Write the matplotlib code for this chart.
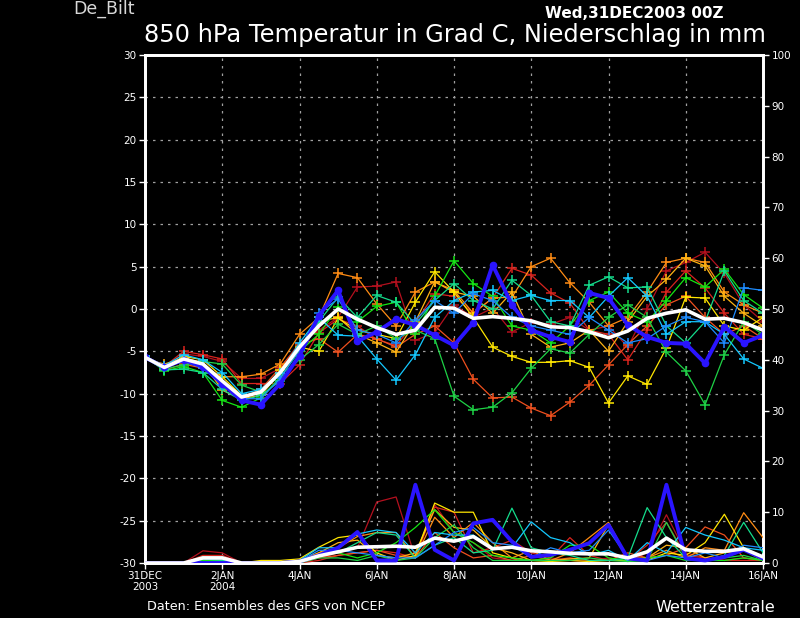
import matplotlib
matplotlib.use('Agg')
import matplotlib.pyplot as plt

# ---------------- data ----------------
steps = list(range(33))  # 12-hourly steps, 31DEC2003 00Z .. 16JAN2004 00Z
tick_steps = [0, 4, 8, 12, 16, 20, 24, 28, 32]
tick_labels = ['31DEC\n2003', '2JAN\n2004', '4JAN', '6JAN', '8JAN',
               '10JAN', '12JAN', '14JAN', '16JAN']
temp_ticks = [-30, -25, -20, -15, -10, -5, 0, 5, 10, 15, 20, 25, 30]
prec_ticks = [0, 10, 20, 30, 40, 50, 60, 70, 80, 90, 100]

member_colors = ['#b4101e', '#d8241e', '#f0501e', '#ff8c14', '#ffb414', '#ffe600',
                 '#14e614', '#1ed246', '#14dc8c', '#14c8ff', '#1e8cff']

temp_crimson = [-5.5, -7.0, -5.3, -5.6, -6.2, -8.2, -8.2, -7.0, -4.0, -2.5, -1.0, 2.6, 2.7, 3.2, -3.7, -2.8,
                0.5, -1.0, 0.1, -2.7, -1.6, -1.8, -1.0, -2.5, -2.0, -4.5, 0.0, 4.5, 5.5, 6.7, 4.2, 0.5, -1.5]
temp_red = [-5.8, -6.8, -5.0, -5.4, -5.9, -8.8, -8.8, -8.8, -6.6, -2.8, -1.2, -2.0, -3.6, -4.3, -1.6, 1.8,
            1.5, -0.5, 1.3, 4.8, 4.0, 1.9, 0.7, -2.5, -3.0, -6.0, -2.5, 2.0, 4.5, 2.5, -0.5, -3.0, -3.5]
temp_orangered = [-5.6, -7.2, -6.5, -7.0, -8.8, -10.5, -9.5, -6.9, -4.2, -3.5, -5.1, -3.0, -3.5, -4.5, -3.0, -2.0,
                  -4.0, -8.3, -10.5, -10.4, -11.7, -12.6, -11.0, -9.0, -6.6, -4.2, -2.0, 0.5, 1.5, -1.0, -3.0, -2.0, -3.5]
temp_orange = [-5.7, -6.9, -6.0, -6.8, -8.0, -8.0, -7.7, -6.5, -3.0, -1.0, 4.2, 3.7, 0.6, -2.0, 2.0, 3.2,
               2.2, -0.5, 1.3, 1.4, 5.0, 6.0, 3.1, 0.8, -2.0, -1.0, 2.0, 5.5, 6.0, 5.5, 2.0, 0.5, -0.5]
temp_gold = [-5.9, -6.5, -5.8, -6.3, -9.6, -10.6, -10.2, -7.5, -5.0, -1.5, -1.0, -3.0, -4.0, -5.1, -1.5, 3.2,
             2.0, 1.5, -0.5, 2.0, -3.0, -4.5, -4.0, -2.5, -5.0, -1.5, 1.5, 3.5, 6.0, 5.1, 1.5, -0.5, -2.0]
temp_yellow = [-5.8, -7.0, -5.6, -6.0, -8.0, -10.2, -10.0, -7.2, -4.5, -5.0, -1.1, -2.5, -3.0, -3.5, 0.8, 4.4,
               2.0, -1.0, -4.5, -5.6, -6.3, -6.3, -6.1, -6.9, -11.1, -7.9, -8.9, -4.6, 1.4, 1.3, -2.0, -2.5, -1.0]
temp_green = [-5.6, -7.3, -6.8, -7.5, -10.8, -11.6, -10.5, -8.0, -5.0, -3.0, 0.2, -1.5, 0.3, 0.8, -3.0, 1.5,
              5.7, 3.0, 1.5, -2.0, -2.5, -4.0, -2.0, 1.0, 2.0, -0.5, -1.5, 1.0, 3.7, 2.6, 4.7, 1.7, 0.1]
temp_green2 = [-5.8, -7.1, -6.6, -6.2, -6.5, -9.0, -9.8, -7.8, -6.0, -4.2, -1.8, -3.0, -2.0, -3.5, -2.5, -3.5,
               -10.3, -11.9, -11.6, -9.9, -7.0, -4.7, -5.2, -3.0, -1.0, 0.5, -1.0, -5.1, -7.3, -11.3, -5.4, -1.5, -3.0]
temp_spring = [-5.7, -7.2, -7.1, -7.5, -9.5, -10.8, -10.2, -8.5, -5.5, -1.5, 1.4, -1.0, 1.6, 0.8, -1.8, 1.0,
               3.0, 1.0, 0.0, 3.4, 1.6, -1.5, -2.0, 2.8, 3.8, 2.5, 2.6, -2.0, -4.0, -1.5, 4.5, 1.0, -0.5]
temp_cyan = [-5.6, -6.7, -5.4, -6.0, -7.5, -10.0, -9.5, -7.5, -4.0, -1.0, -3.1, -3.2, -5.9, -8.4, -5.4, -1.0,
             1.0, 2.0, 2.2, 1.0, 1.6, 1.0, 1.0, -1.0, 1.5, 3.7, 1.5, -3.0, -1.5, -1.5, -3.0, -5.9, -7.0]
temp_sky = [-5.9, -6.8, -6.2, -7.0, -9.0, -10.6, -10.6, -8.2, -4.8, -0.5, 1.2, -2.5, -3.0, -4.0, -1.3, 1.0,
            -0.5, 1.8, 1.0, -1.0, -2.0, -2.5, -3.0, -1.0, -2.5, -4.0, -3.5, -2.0, -1.0, -1.5, -4.0, 2.5, 2.2]

prec_crimson = [0, 0, 0, 2.4, 2.0, 0, 0, 0, 0.3, 1.0, 2.0, 3.0, 12.0, 13.0, 1.0, 11.5, 6.0, 4.0, 1.0, 0.5,
                0.5, 1.0, 0.5, 0.3, 1.0, 0.3, 2.0, 9.5, 2.0, 1.0, 0.5, 1.0, 0.5]
prec_red = [0, 0, 0, 1.5, 1.5, 0, 0, 0, 0, 0.5, 1.5, 2.0, 2.5, 2.0, 1.0, 11.0, 10.0, 2.0, 3.0, 4.5,
            2.0, 1.0, 5.0, 1.5, 0.5, 0.5, 3.5, 8.0, 1.5, 1.0, 0.5, 0.5, 0.5]
prec_orangered = [0, 0, 0, 1.0, 0.8, 0, 0, 0, 0, 1.0, 1.5, 2.0, 2.5, 1.5, 1.0, 6.0, 3.0, 1.0, 1.5, 0.5,
                  1.5, 0.5, 1.0, 0.5, 0.5, 2.0, 1.0, 1.5, 3.0, 7.1, 5.5, 1.0, 0.5]
prec_orange = [0, 0, 0, 0.8, 0.8, 0, 0, 0, 0.5, 2.0, 3.0, 5.2, 6.0, 6.0, 1.0, 9.0, 5.0, 8.0, 4.0, 1.0,
               2.5, 0.5, 2.0, 5.0, 8.0, 1.0, 1.0, 2.5, 1.0, 3.0, 2.5, 9.9, 5.0]
prec_gold = [0, 0, 0, 0.8, 0.5, 0, 0, 0, 0.3, 2.0, 4.0, 4.5, 1.5, 1.0, 2.0, 10.5, 7.0, 6.5, 3.0, 2.0,
             0.5, 0.5, 0.8, 1.0, 7.5, 0.5, 1.0, 3.5, 3.0, 1.0, 2.0, 2.5, 0.5]
prec_yellow = [0, 0, 0, 1.2, 1.0, 0, 0.5, 0.5, 0.8, 3.1, 5.0, 5.5, 2.0, 0.5, 1.5, 11.8, 10.0, 10.0, 2.0, 1.0,
               0.5, 0.3, 0.5, 0.3, 0.5, 0.5, 0.5, 2.0, 1.5, 4.0, 9.6, 3.0, 0.5]
prec_green = [0, 0, 0, 0.5, 0.5, 0, 0, 0, 0.3, 1.5, 2.0, 1.0, 2.0, 4.0, 7.0, 10.5, 6.0, 4.0, 1.5, 1.0,
              0.5, 1.0, 3.5, 3.5, 1.0, 0.5, 1.0, 1.5, 0.5, 0.5, 0.5, 1.0, 0.5]
prec_green2 = [0, 0, 0, 0.3, 0.3, 0, 0, 0, 0, 1.0, 1.0, 0.5, 1.5, 0.5, 1.0, 5.0, 7.5, 3.0, 0.5, 0.5,
               0.5, 0.5, 0.5, 1.0, 0.5, 0.3, 0.5, 8.0, 1.0, 0.5, 1.0, 1.5, 0.5]
prec_spring = [0, 0, 0, 0.8, 0.5, 0, 0, 0, 0.3, 1.5, 2.0, 4.0, 6.0, 5.5, 1.0, 3.5, 5.0, 2.0, 2.5, 10.8,
               3.0, 2.0, 1.5, 0.5, 0.5, 1.0, 10.9, 5.0, 1.0, 0.5, 1.5, 8.0, 2.0]
prec_cyan = [0, 0, 0, 1.2, 1.2, 0, 0, 0, 0.5, 3.0, 3.0, 5.7, 6.5, 6.0, 2.0, 6.0, 5.5, 5.5, 3.0, 3.0,
             8.1, 5.0, 4.0, 1.5, 2.5, 0.5, 4.0, 2.0, 7.0, 5.5, 4.5, 3.0, 2.5]
prec_sky = [0, 0, 0, 0.8, 0.8, 0, 0, 0, 0.3, 2.5, 2.5, 2.0, 1.5, 1.0, 1.0, 3.5, 6.0, 7.0, 4.0, 3.5,
            1.0, 3.0, 2.0, 2.5, 6.5, 1.0, 0.5, 1.5, 1.0, 2.0, 1.0, 3.5, 3.0]

temp_control = [-5.7, -6.9, -6.0, -6.8, -8.8, -10.8, -11.3, -8.8, -5.5, -0.8, 2.2, -3.8, -2.7, -1.2, -1.9, -3.1,
                -4.3, -1.6, 5.2, 0.5, -2.5, -3.3, -3.9, 1.9, 1.3, -1.9, -3.3, -4.0, -4.1, -6.4, -2.1, -4.0, -3.1]
prec_control = [0, 0, 0, 0, 0, 0, 0, 0, 0.3, 1.5, 3.0, 6.1, 0.5, 0.5, 15.4, 2.6, 0.5, 7.8, 8.5, 4.2,
                1.2, 1.6, 2.6, 3.9, 7.5, 0.9, 0.5, 15.4, 0.9, 0.5, 1.2, 2.6, 0.9]

temp_mean = [-5.7, -6.9, -5.9, -6.5, -8.5, -10.4, -9.8, -7.5, -4.5, -2.0, 0.0, -1.2, -2.2, -3.0, -2.5, 0.2,
             0.1, -1.1, -0.9, -1.1, -1.4, -2.1, -2.2, -2.7, -3.4, -2.6, -1.1, -0.5, -0.1, -1.2, -1.1, -1.6, -2.5]
prec_mean = [0, 0, 0, 1.0, 1.0, 0, 0, 0, 0.3, 1.4, 2.2, 3.1, 3.2, 3.3, 3.1, 4.9, 4.3, 5.2, 2.8, 3.1,
             2.4, 2.2, 1.9, 1.8, 1.8, 1.0, 2.2, 4.9, 2.6, 2.3, 2.3, 2.8, 1.2]

member_temps = [temp_crimson, temp_red, temp_orangered, temp_orange, temp_gold, temp_yellow,
                temp_green, temp_green2, temp_spring, temp_cyan, temp_sky]
member_precs = [prec_crimson, prec_red, prec_orangered, prec_orange, prec_gold, prec_yellow,
                prec_green, prec_green2, prec_spring, prec_cyan, prec_sky]

# ---------------- figure ----------------
plt.rcParams['font.family'] = ['DejaVu Sans']
fig = plt.figure(figsize=(8, 6.18), dpi=100, facecolor='black')
ax = fig.add_axes([145 / 800, 1 - 563 / 618, 618 / 800, 508 / 618], facecolor='black')
ax2 = ax.twinx()
ax2.set_facecolor('none')

for t, p, c in zip(member_temps, member_precs, member_colors):
    ax.plot(steps, t, color=c, lw=0.9, marker='+', ms=7, mew=1.1, zorder=3)
    ax2.plot(steps, p, color=c, lw=0.9, zorder=3)

ax.plot(steps, temp_control, color='#2a14ff', lw=2.8, marker='o', ms=4.5, zorder=4)
ax2.plot(steps, prec_control, color='#2a14ff', lw=2.8, zorder=4)
ax.plot(steps, temp_mean, color='white', lw=2.6, zorder=5)
ax2.plot(steps, prec_mean, color='white', lw=2.6, zorder=5)

ax.set_xlim(0, 32)
ax.set_ylim(-30, 30)
ax2.set_ylim(0, 100)

ax.set_xticks(tick_steps)
ax.set_xticklabels(tick_labels, color='white', fontsize=7.5, linespacing=1.1)
ax.set_yticks(temp_ticks)
ax.set_yticklabels([str(v) for v in temp_ticks], color='white', fontsize=7.5)
ax2.set_yticks(prec_ticks)
ax2.set_yticklabels([str(v) for v in prec_ticks], color='white', fontsize=7.5)

for a in (ax, ax2):
    a.tick_params(colors='white', length=4, width=1, pad=2)
    for s in a.spines.values():
        s.set_color('white')
        s.set_linewidth(2)

ax.grid(True, color='#a0a0a0', lw=0.9, linestyle=(0, (2, 4)))
ax.set_axisbelow(True)

fig.text(73 / 800, 1 - 9 / 618, 'De_Bilt', color='#d8d8d8', fontsize=12.5, va='center', ha='left')
fig.text(545 / 800, 1 - 13 / 618, 'Wed,31DEC2003 00Z', color='white', fontsize=11,
         fontweight='bold', va='center', ha='left')
fig.text(455 / 800, 1 - 35 / 618, '850 hPa Temperatur in Grad C, Niederschlag in mm',
         color='white', fontsize=17.4, va='center', ha='center')
fig.text(147 / 800, 1 - 607 / 618, 'Daten: Ensembles des GFS von NCEP', color='white',
         fontsize=9.2, va='center', ha='left')
fig.text(775 / 800, 1 - 607 / 618, 'Wetterzentrale', color='white', fontsize=11.5,
         va='center', ha='right')

fig.savefig('out.png', dpi=100, facecolor='black')
